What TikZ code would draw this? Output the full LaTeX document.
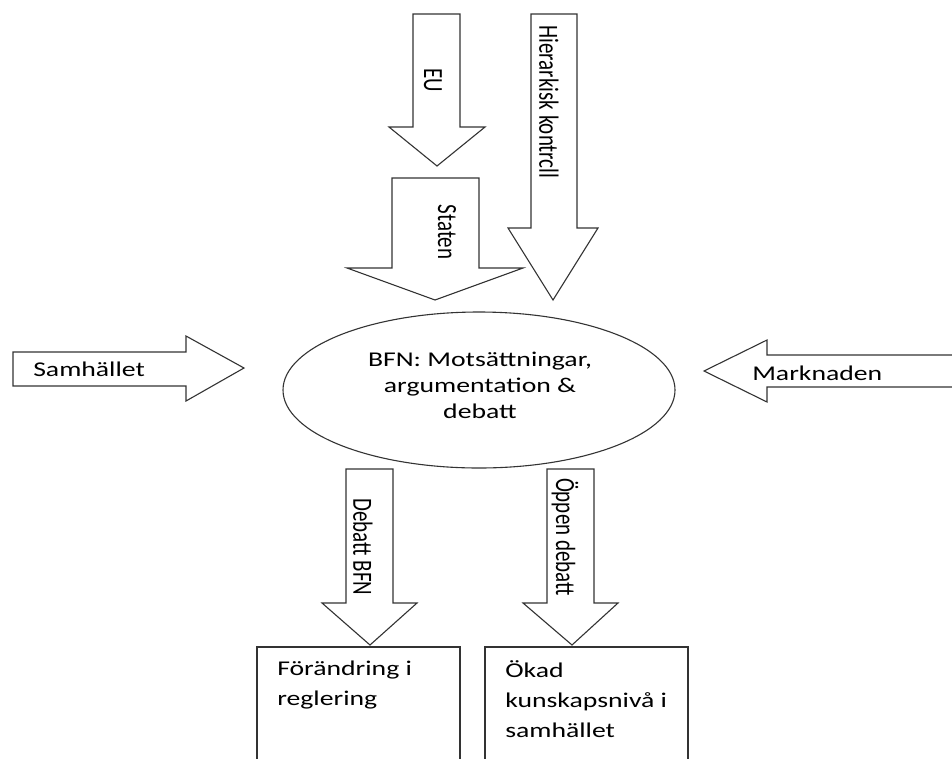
\documentclass[tikz,border=0pt]{standalone}
\usepackage{fontspec}
\setmainfont{Carlito}
\usetikzlibrary{shapes.geometric, positioning}

\begin{document}
\begin{tikzpicture}[x=1pt, y=-1pt,
            outline/.style={draw=black!80, line width=1.1pt, fill=white},
            lbl/.style={font=\fontsize{21}{26}\selectfont, inner sep=0pt, xscale=1.32},
            vlbl/.style={lbl, rotate=-90},
            boxlbl/.style={lbl, font=\fontsize{21}{30}\selectfont, align=left, anchor=base west}
        ]
        \clip (0,0) rectangle (952,758);

        % Arrows from above
        \draw[outline] (413,14) -- (460,14) -- (460,127) -- (485,127) -- (437,166) -- (389,127) -- (413,127) -- cycle;
        \node[vlbl] (eu) at (433,80) {EU};

        \draw[outline] (392,178) -- (479,178) -- (479,268) -- (523,268) -- (435,300) -- (347,268) -- (392,268) -- cycle;
        \node[vlbl] (staten) at (447,232) {Staten};

        \draw[outline] (531,14) -- (577,14) -- (577,228) -- (598,228) -- (553,300) -- (508,228) -- (531,228) -- cycle;
        \node[vlbl] (hierarki) at (549,102) {Hierarkisk kontrcll};

        % Arrows from the sides
        \draw[outline] (13,352) -- (186,352) -- (186,336) -- (244,368) -- (186,401) -- (186,386) -- (13,386) -- cycle;
        \node[lbl, anchor=west] (samhallet) at (33,369) {Samhället};

        \draw[outline] (960,355) -- (767,355) -- (767,340) -- (704,371) -- (767,402) -- (767,387) -- (960,387);
        \node[lbl, anchor=west] (marknaden) at (752,373) {Marknaden};

        % Centre
        \node[outline, ellipse, inner sep=0pt, minimum width=392pt, minimum height=156pt] (bfn) at (479,390) {};
        \node[lbl, align=center] (bfntext) at (480,385) {BFN: Motsättningar,\\argumentation \&\\debatt};

        % Arrows down to the results
        \draw[outline] (346,469) -- (393,469) -- (393,603) -- (417,603) -- (370,645) -- (322,603) -- (346,603) -- cycle;
        \node[vlbl] (debattbfn) at (363,547) {Debatt BFN};

        \draw[outline] (547,469) -- (594,469) -- (594,603) -- (618,603) -- (572,645) -- (523,603) -- (547,603) -- cycle;
        \node[vlbl] (oppen) at (565,537) {Öppen debatt};

        % Results (anchor is the last line)
        \draw[outline] (257,647) rectangle (460,770);
        \node[boxlbl] (forandring) at (277,705) {Förändring i\\reglering};

        \draw[outline] (485,647) rectangle (688,770);
        \node[boxlbl] (okad) at (505,737) {Ökad\\kunskapsnivå i\\samhället};

    \end{tikzpicture}
\end{document}
